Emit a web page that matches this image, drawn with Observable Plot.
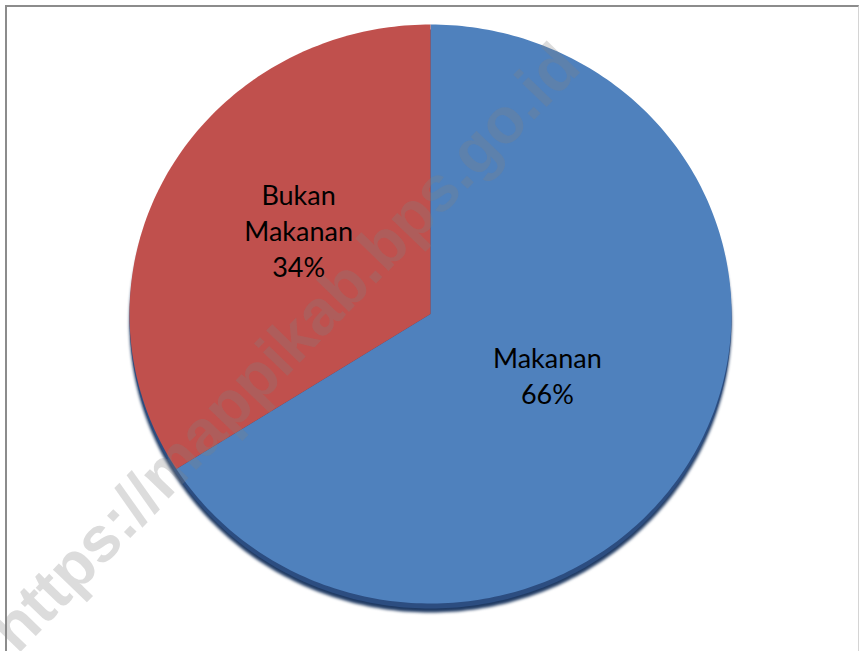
<!DOCTYPE html>
<html><head><meta charset="utf-8">
<script src="https://cdn.jsdelivr.net/npm/d3@7"></script>
<script src="https://cdn.jsdelivr.net/npm/@observablehq/plot@0.6"></script>
<style>
body{margin:0;background:#fff;}
#wrap{position:relative;width:860px;height:651px;overflow:hidden;background:#fff;}
#border{position:absolute;left:5px;top:5px;width:851px;height:660px;border-left:2px solid #8c8c8c;border-top:2px solid #8c8c8c;border-right:1px solid #d4d4d4;}
#chart{position:absolute;left:0;top:0;}
</style></head><body>
<div id="wrap"><div id="border"></div><div id="chart"></div></div>
<script>
const categories = ["Makanan", "Bukan Makanan"];
const shares = [66, 34];
const sliceColors = ["#4f81bd", "#c0504d"];
const watermark = "https://mappikab.bps.go.id";

const slices = d3.pie().sort(null).value(d => d.value)(
  categories.map((c, i) => ({name: c, value: shares[i]}))
);

// polygon points for each slice (angles clockwise from 12 o'clock)
function slicePoints(s, i) {
  const pts = [{x: 0, y: 0, k: i}];
  const n = Math.max(2, Math.ceil((s.endAngle - s.startAngle) / (Math.PI / 180)));
  for (let j = 0; j <= n; j++) {
    const a = s.startAngle + (s.endAngle - s.startAngle) * j / n;
    pts.push({x: Math.sin(a), y: Math.cos(a), k: i});
  }
  pts.push({x: 0, y: 0, k: i});
  return pts;
}
const slicePts = slices.map(slicePoints);
const rimPts = d3.range(0, 361).map(d => ({x: Math.sin(d * Math.PI / 180), y: Math.cos(d * Math.PI / 180)}));

const labels = slices.map(s => {
  const m = (s.startAngle + s.endAngle) / 2;
  return {
    x: Math.sin(m) * 0.5,
    y: Math.cos(m) * 0.5,
    text: s.data.name.replace(" ", "\n") + "\n" + s.data.value + "%"
  };
});

const plot = Plot.plot({
  width: 860,
  height: 651,
  margin: 0,
  x: {domain: [-1, 1], range: [129, 731], axis: null},
  y: {domain: [-1, 1], range: [603, 24], axis: null},
  marks: [
    Plot.line(rimPts, {x: "x", y: "y", fill: "#1f3a63", stroke: "none", dy: 9, imageFilter: "blur(1.5px)"}),
    Plot.line(rimPts, {x: "x", y: "y", fill: "#2c4d80", stroke: "none", dy: 5}),
    ...slicePts.map((pts, i) =>
      Plot.line(pts, {x: "x", y: "y", fill: sliceColors[i], stroke: "none"})
    ),
    Plot.text([watermark], {
      text: d => d, frameAnchor: "middle", dx: -145, dy: 22, rotate: -46,
      fontSize: 64, fontWeight: "bold", fill: "#808080", fillOpacity: 0.28,
      fontFamily: "Liberation Sans, Arial, sans-serif"
    }),
    Plot.text([labels[0]], {x: "x", y: "y", text: "text", dx: -15, dy: -9,
      fontSize: 27, lineHeight: 1.33, fill: "#000", fontFamily: "Lato, sans-serif"}),
    Plot.text([labels[1]], {x: "x", y: "y", text: "text", dx: 0, dy: -15,
      fontSize: 27, lineHeight: 1.33, fill: "#000", fontFamily: "Lato, sans-serif"})
  ]
});
document.getElementById("chart").appendChild(plot);
</script>
</body></html>
